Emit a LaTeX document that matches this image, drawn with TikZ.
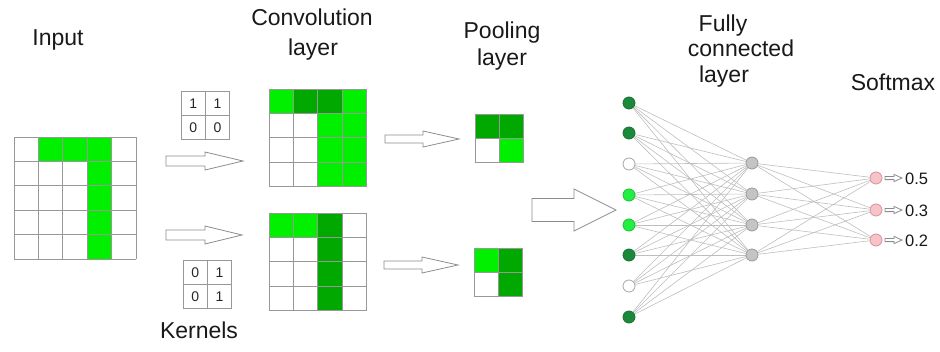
\documentclass[tikz,border=0pt]{standalone}
\usepackage{fontspec}
\setmainfont{Liberation Sans}
\usetikzlibrary{backgrounds}

\definecolor{lgreen}{HTML}{00F000}
\definecolor{dgreen}{HTML}{00A800}
\definecolor{gridc}{HTML}{989898}
\definecolor{ndark}{HTML}{1A8A3A}
\definecolor{ndarkb}{HTML}{147030}
\definecolor{nlight}{HTML}{22EE44}
\definecolor{nlightb}{HTML}{18C030}
\definecolor{hfill}{HTML}{C4C4C4}
\definecolor{hborder}{HTML}{9A9A9A}
\definecolor{ofill}{HTML}{F6C4C8}
\definecolor{oborder}{HTML}{D89098}
\definecolor{edgec}{HTML}{BEBEBE}
\definecolor{arrowc}{HTML}{8C8C8C}

\tikzset{
  gridline/.style={draw=gridc, line width=0.8pt},
  title/.style={anchor=base, font=\fontsize{23}{27}\selectfont, text=black!90, inner sep=0pt},
  digit/.style={font=\fontsize{14}{16}\selectfont, text=black!85, inner sep=0pt},
  prob/.style={anchor=west, font=\fontsize{16.5}{18}\selectfont, text=black!90, inner sep=0pt},
  hollow/.style={draw=arrowc, fill=white, line width=0.8pt, line join=miter},
  neuron/.style={circle, minimum size=12pt, inner sep=0pt, line width=0.8pt},
  nd/.style={neuron, fill=ndark, draw=ndarkb},
  nl/.style={neuron, fill=nlight, draw=nlightb},
  nw/.style={neuron, fill=white, draw=gray!70},
  nh/.style={neuron, fill=hfill, draw=hborder},
  no/.style={neuron, fill=ofill, draw=oborder},
  edge/.style={draw=edgec, line width=0.6pt},
}

% square grid of #3 x #3 cells, origin (#1,#2)
\newcommand\cellgrid[3]{%
  \foreach \k in {0,...,#3} {
    \draw[gridline] ({#1+\k*24.4},#2) -- ({#1+\k*24.4},{#2+#3*24.4});
    \draw[gridline] (#1,{#2+\k*24.4}) -- ({#1+#3*24.4},{#2+\k*24.4});
  }}
% one coloured cell: origin, column, row, colour
\newcommand\fillcell[5]{\fill[#5] ({#1+#3*24.4},{#2+#4*24.4}) rectangle ++(24.4,24.4);}
% hollow block arrow: x start, x head, x tip, y centre, half shaft, half head
\newcommand\blockarrow[6]{%
  \draw[hollow] (#1,{#4-#5}) -- (#2,{#4-#5}) -- (#2,{#4-#6}) -- (#3,#4)
    -- (#2,{#4+#6}) -- (#2,{#4+#5}) -- (#1,{#4+#5}) -- cycle;}

\begin{document}
\begin{tikzpicture}[x=1pt, y=-1pt]
\useasboundingbox (0,0) rectangle (940,351);

% ---- titles
\node[title] (tin) at (58,45) {Input};
\node[title] (tconv1) at (312,25) {Convolution};
\node[title] (tconv2) at (313,55) {layer};
\node[title] (tpool1) at (502,38) {Pooling};
\node[title] (tpool2) at (502,65) {layer};
\node[title] (tfc1) at (723,31) {Fully};
\node[title] (tfc2) at (741,56) {connected};
\node[title] (tfc3) at (724,82) {layer};
\node[title] (tsm) at (893,90) {Softmax};
\node[title] (tker) at (199,338) {Kernels};

% ---- input image
\foreach \c/\r in {1/0,2/0,3/0,3/1,3/2,3/3,3/4} {\fillcell{14}{137}{\c}{\r}{lgreen}}
\cellgrid{14}{137}{5}

% ---- kernels
\cellgrid{181}{91}{2}
\node[digit] (k1a) at (193.2,103.2) {1};
\node[digit] (k1b) at (217.6,103.2) {1};
\node[digit] (k1c) at (193.2,127.6) {0};
\node[digit] (k1d) at (217.6,127.6) {0};
\cellgrid{183}{260}{2}
\node[digit] (k2a) at (195.2,272.2) {0};
\node[digit] (k2b) at (219.6,272.2) {1};
\node[digit] (k2c) at (195.2,296.6) {0};
\node[digit] (k2d) at (219.6,296.6) {1};

% ---- arrows into the convolution layer
\blockarrow{166}{205}{243}{161}{5}{9}
\blockarrow{166}{205}{242}{235}{5}{9}

% ---- convolution feature maps
\foreach \c/\r/\col in {0/0/lgreen,1/0/dgreen,2/0/dgreen,3/0/lgreen,
  2/1/lgreen,3/1/lgreen,2/2/lgreen,3/2/lgreen,2/3/lgreen,3/3/lgreen}
  {\fillcell{269}{89}{\c}{\r}{\col}}
\cellgrid{269}{89}{4}
\foreach \c/\r/\col in {0/0/lgreen,1/0/lgreen,2/0/dgreen,2/1/dgreen,2/2/dgreen,2/3/dgreen}
  {\fillcell{269}{213}{\c}{\r}{\col}}
\cellgrid{269}{213}{4}

% ---- arrows into the pooling layer
\blockarrow{385}{423}{459}{139}{4}{8}
\blockarrow{384}{422}{458}{265}{4}{8}

% ---- pooled maps
\foreach \c/\r/\col in {0/0/dgreen,1/0/dgreen,1/1/lgreen} {\fillcell{475}{114}{\c}{\r}{\col}}
\cellgrid{475}{114}{2}
\foreach \c/\r/\col in {0/0/lgreen,1/0/dgreen,1/1/dgreen} {\fillcell{474}{248}{\c}{\r}{\col}}
\cellgrid{474}{248}{2}

% ---- flatten arrow
\blockarrow{532}{574}{616}{210}{11.5}{21}

% ---- fully connected network
\foreach \i/\y/\s in {1/103/nd,2/133/nd,3/164/nw,4/195/nl,5/225/nl,6/255/nd,7/286/nw,8/317/nd}
  {\node[\s] (i\i) at (629,\y) {};}
\foreach \j/\y in {1/163,2/194,3/225,4/255}
  {\node[nh] (h\j) at (752,\y) {};}
\foreach \k/\y in {1/178,2/210,3/240}
  {\node[no] (o\k) at (876,\y) {};}

\begin{scope}[on background layer]
  \foreach \i in {1,...,8} \foreach \j in {1,...,4} {\draw[edge] (i\i) -- (h\j);}
  \foreach \j in {1,...,4} \foreach \k in {1,2,3} {\draw[edge] (h\j) -- (o\k);}
\end{scope}

% ---- softmax outputs
\foreach \k/\y/\v in {1/178/0.5,2/210/0.3,3/240/0.2} {
  \blockarrow{885}{894}{902}{\y}{1.6}{3.6}
  \node[prob] (p\k) at (905,{\y+1}) {\v};
}
\end{tikzpicture}
\end{document}
